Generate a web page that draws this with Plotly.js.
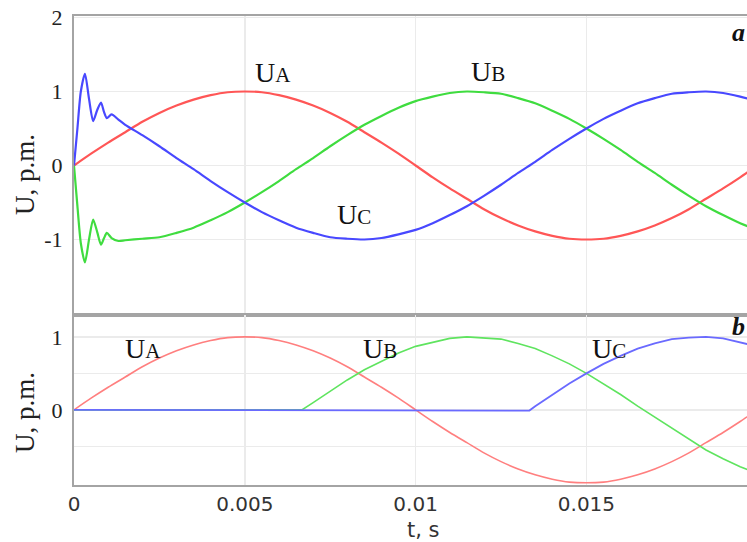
<!DOCTYPE html>
<html>
<head>
<meta charset="utf-8">
<script src="https://cdn.plot.ly/plotly-3.0.1.min.js"></script>
<style>html,body{margin:0;padding:0;background:#fff;}#chart{width:747px;height:542px;}</style>
</head>
<body>
<div id="chart"></div>
<script>
// time samples, s
var tRegular = [0, 0.0005, 0.001, 0.0015, 0.002, 0.0025, 0.003, 0.0035, 0.004, 0.0045,
  0.005, 0.0055, 0.006, 0.0065, 0.007, 0.0075, 0.008, 0.0085, 0.009, 0.0095,
  0.01, 0.0105, 0.011, 0.0115, 0.012, 0.0125, 0.013, 0.0135, 0.014, 0.0145,
  0.015, 0.0155, 0.016, 0.0165, 0.017, 0.0175, 0.018, 0.0185, 0.019, 0.0195, 0.02];
// phase voltages, p.m.
var uA = [0, 0.16, 0.31, 0.45, 0.59, 0.71, 0.81, 0.89, 0.95, 0.99,
  1.00, 0.99, 0.95, 0.89, 0.81, 0.71, 0.59, 0.45, 0.31, 0.16,
  0, -0.16, -0.31, -0.45, -0.59, -0.71, -0.81, -0.89, -0.95, -0.99,
  -1.00, -0.99, -0.95, -0.89, -0.81, -0.71, -0.59, -0.45, -0.31, -0.16, 0];
var uB = [-0.87, -0.93, -0.98, -1.00, -0.99, -0.97, -0.91, -0.84, -0.74, -0.63,
  -0.50, -0.36, -0.21, -0.05, 0.10, 0.26, 0.41, 0.55, 0.67, 0.78,
  0.87, 0.93, 0.98, 1.00, 0.99, 0.97, 0.91, 0.84, 0.74, 0.63,
  0.50, 0.36, 0.21, 0.05, -0.10, -0.26, -0.41, -0.55, -0.67, -0.78, -0.87];
var uC = [0.87, 0.78, 0.67, 0.55, 0.41, 0.26, 0.10, -0.05, -0.21, -0.36,
  -0.50, -0.63, -0.74, -0.84, -0.91, -0.97, -0.99, -1.00, -0.98, -0.93,
  -0.87, -0.78, -0.67, -0.55, -0.41, -0.26, -0.10, 0.05, 0.21, 0.36,
  0.50, 0.63, 0.74, 0.84, 0.91, 0.97, 0.99, 1.00, 0.98, 0.93, 0.87];
// start-up transient of phases B and C (plot a)
var tTransient = [0, 0.0001, 0.0002, 0.00032, 0.00044, 0.00056, 0.00068, 0.00079, 0.00088, 0.00096, 0.0011, 0.0013, 0.0015];
var uBTransient = [0, -0.55, -1.05, -1.31, -1.00, -0.73, -0.90, -1.07, -0.98, -0.91, -0.98, -1.02, -1.01];
var uCTransient = [0, 0.50, 1.00, 1.24, 0.90, 0.60, 0.75, 0.85, 0.72, 0.64, 0.69, 0.62, 0.55];
// switching-on instants of phases B and C (plot b)
var tOnB = 0.00667;
var tOnC = 0.01333;
var xTicks = [0, 0.005, 0.01, 0.015];
var xTickText = ['0', '0.005', '0.01', '0.015'];
var yTicksA = [-1, 0, 1, 2];
var yTickTextA = ['-1', '0', '1', '2'];
var yTicksB = [-0.5, 0, 0.5, 1];
var yTickTextB = ['', '0', '', '1'];

var startReg = 4; // tRegular index 0.002 follows the transient samples
var xBa = tTransient.concat(tRegular.slice(startReg));
var yBa = uBTransient.concat(uB.slice(startReg));
var yCa = uCTransient.concat(uC.slice(startReg));

var iB = 14, iC = 27; // first regular samples after switching
var xBb = [0, tOnB].concat(tRegular.slice(iB));
var yBb = [0, 0].concat(uB.slice(iB));
var xCb = [0, tOnC].concat(tRegular.slice(iC));
var yCb = [0, -0.01].concat(uC.slice(iC));

var red = '#ff5656', green = '#3fdc3f', blue = '#4848ff';
var redB = '#ff7f7f', greenB = '#5fe45f', blueB = '#6a6aff';

function ln(c, w) { return {color: c, width: w, shape: 'spline', smoothing: 0.7}; }

var traces = [
  {x: tRegular, y: uA, xaxis: 'x', yaxis: 'y', mode: 'lines', line: ln(red, 2.2), hoverinfo: 'skip'},
  {x: xBa, y: yBa, xaxis: 'x', yaxis: 'y', mode: 'lines', line: ln(green, 2.2), hoverinfo: 'skip'},
  {x: xBa, y: yCa, xaxis: 'x', yaxis: 'y', mode: 'lines', line: ln(blue, 2.2), hoverinfo: 'skip'},
  {x: tRegular, y: uA, xaxis: 'x2', yaxis: 'y2', mode: 'lines', line: ln(redB, 1.6), hoverinfo: 'skip'},
  {x: xBb, y: yBb, xaxis: 'x2', yaxis: 'y2', mode: 'lines', line: {color: greenB, width: 1.6}, hoverinfo: 'skip'},
  {x: xCb, y: yCb, xaxis: 'x2', yaxis: 'y2', mode: 'lines', line: {color: blueB, width: 1.8}, hoverinfo: 'skip'}
];

var frame = '#a4a4a4', grid = '#ebebeb';
var serif = 'Liberation Serif, Times New Roman, serif';
var sans = 'DejaVu Sans, sans-serif';
var yDomB = 170 / 469;

function lab(txt, sub, x, y) {
  return {text: txt + '<span style="font-size:21px">' + sub + '</span>', x: x, y: y, xref: 'paper', yref: 'paper',
    xanchor: 'center', yanchor: 'middle', showarrow: false, font: {family: serif, size: 28, color: '#111'}};
}

var layout = {
  width: 747, height: 542,
  margin: {l: 74, r: 0, t: 16, b: 57},
  paper_bgcolor: '#fff', plot_bgcolor: '#fff',
  showlegend: false,
  xaxis: {domain: [0, 1], range: [0, 0.0197], anchor: 'y', tickvals: xTicks, ticktext: xTickText, showticklabels: false,
    showgrid: true, gridcolor: grid, gridwidth: 1.5, zeroline: false, showline: true, linecolor: frame, linewidth: 2, mirror: true, ticks: ''},
  yaxis: {domain: [yDomB, 1], range: [-2.02, 2.02], anchor: 'x', tickvals: yTicksA, ticktext: yTickTextA,
    tickfont: {family: serif, size: 22, color: '#222'}, ticklabelstandoff: 5,
    showgrid: true, gridcolor: grid, gridwidth: 1.5, zeroline: false, showline: true, linecolor: frame, linewidth: 2, ticks: ''},
  xaxis2: {domain: [0, 1], range: [0, 0.0197], anchor: 'y2', tickvals: xTicks, ticktext: xTickText,
    tickfont: {family: sans, size: 20, color: '#333'},
    showgrid: true, gridcolor: grid, gridwidth: 1.5, zeroline: false, showline: true, linecolor: frame, linewidth: 2, mirror: true, ticks: ''},
  yaxis2: {domain: [0, yDomB], range: [-1.03, 1.30], anchor: 'x2', tickvals: yTicksB, ticktext: yTickTextB,
    tickfont: {family: serif, size: 22, color: '#222'}, ticklabelstandoff: 5,
    showgrid: true, gridcolor: grid, gridwidth: 1.5, zeroline: false, showline: true, linecolor: frame, linewidth: 2, ticks: ''},
  annotations: [
    lab('U', 'A', 0.2957, 0.8785),
    lab('U', 'B', 0.6152, 0.8806),
    lab('U', 'C', 0.4160, 0.5778),
    lab('U', 'A', 0.1025, 0.2921),
    lab('U', 'B', 0.4547, 0.2921),
    lab('U', 'C', 0.7949, 0.2900),
    {text: '<b><i>a</i></b>', x: 0.9747, y: 0.9638, xref: 'paper', yref: 'paper', xanchor: 'left', yanchor: 'middle',
      showarrow: false, font: {family: serif, size: 26, color: '#111'}},
    {text: '<b><i>b</i></b>', x: 0.9747, y: 0.3369, xref: 'paper', yref: 'paper', xanchor: 'left', yanchor: 'middle',
      showarrow: false, font: {family: serif, size: 26, color: '#111'}},
    {text: 'U, p.m.', x: -0.0728, y: 0.661, xref: 'paper', yref: 'paper', xanchor: 'center', yanchor: 'middle', textangle: -90,
      showarrow: false, font: {family: serif, size: 27, color: '#222'}},
    {text: 'U, p.m.', x: -0.0728, y: 0.1535, xref: 'paper', yref: 'paper', xanchor: 'center', yanchor: 'middle', textangle: -90,
      showarrow: false, font: {family: serif, size: 27, color: '#222'}},
    {text: 't, s', x: 0.5186, y: -0.097, xref: 'paper', yref: 'paper', xanchor: 'center', yanchor: 'middle',
      showarrow: false, font: {family: sans, size: 21, color: '#333'}}
  ]
};

Plotly.newPlot('chart', traces, layout, {staticPlot: true, displayModeBar: false});
</script>
</body>
</html>
